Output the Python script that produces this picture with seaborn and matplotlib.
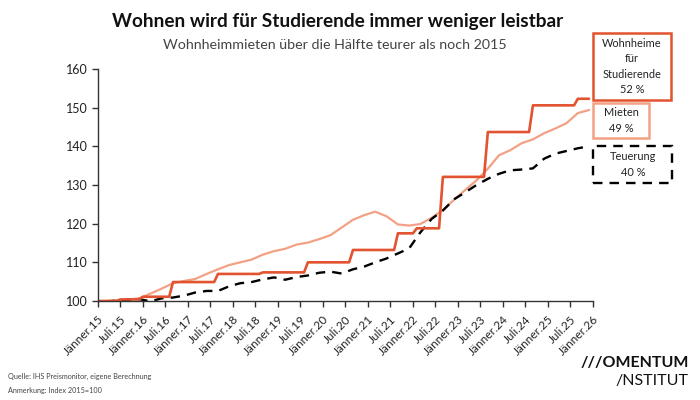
import pandas as pd
import matplotlib
matplotlib.use("Agg")
import matplotlib.pyplot as plt
from matplotlib.patches import Rectangle
import seaborn as sns

# --------------------------------------------------
# Data (Index 2015 = 100)
# --------------------------------------------------
# Wohnheime für Studierende, monthly Jan 2015 - Dec 2025
wohnheime = (
    [100.0] * 6 + [100.4] * 6            # 2015
    + [101.1] * 8 + [104.9] * 4          # 2016
    + [104.9] * 8 + [107.0] * 4          # 2017
    + [107.0] * 8 + [107.4] * 4          # 2018
    + [107.4] * 8 + [110.0] * 4          # 2019
    + [110.0] * 8 + [113.2] * 4          # 2020
    + [113.2] * 8 + [117.5] * 4          # 2021
    + [117.5] * 1 + [118.8] * 7 + [132.1] * 4   # 2022
    + [132.1] * 8 + [143.7] * 4          # 2023
    + [143.7] * 8 + [150.6] * 4          # 2024
    + [150.6] * 8 + [152.3] * 4          # 2025
)

# Mieten, quarterly (quarter ends) 2015 - 2025
mieten = [
    100.0, 100.2, 100.4, 100.7,
    101.9, 103.2, 104.6, 105.2,
    105.7, 107.0, 108.2, 109.3,
    110.0, 110.7, 112.0, 112.9,
    113.5, 114.6, 115.1, 116.0,
    117.0, 119.0, 121.0, 122.2,
    123.1, 121.9, 119.8, 119.5,
    119.9, 121.5, 123.5, 126.2,
    128.7, 131.2, 134.2, 137.7,
    139.0, 140.8, 141.8, 143.4,
    144.6, 146.0, 148.6, 149.4,
]

# Teuerung (VPI), quarterly (quarter ends) 2015 - 2025
teuerung = [
    99.8, 100.1, 100.3, 100.5,
    99.9, 100.7, 100.9, 101.4,
    102.2, 102.6, 102.6, 103.8,
    104.6, 104.9, 105.6, 106.1,
    105.5, 106.2, 106.6, 107.3,
    107.6, 107.1, 108.2, 108.9,
    110.0, 111.0, 112.3, 113.6,
    117.7, 121.2, 123.4, 126.3,
    128.1, 130.0, 131.6, 132.9,
    133.8, 134.0, 134.3, 136.8,
    138.1, 138.8, 139.5, 140.0,
]

monthly_dates = pd.date_range("2015-01-01", periods=len(wohnheime), freq="MS")
quarter_dates = pd.date_range("2015-03-01", periods=len(mieten), freq="3MS")

tick_dates = pd.date_range("2015-01-01", "2026-01-01", freq="6MS")
tick_labels = [
    ("Jänner." if d.month == 1 else "Juli.") + d.strftime("%y")
    for d in tick_dates
]

df_w = pd.DataFrame({"datum": monthly_dates, "index": wohnheime})
df_m = pd.DataFrame({"datum": quarter_dates, "index": mieten})
df_t = pd.DataFrame({"datum": quarter_dates, "index": teuerung})

RED = "#e2532f"
SALMON = "#f3a185"
DARK = "#222222"

# --------------------------------------------------
# Chart
# --------------------------------------------------
sns.set_theme(style="ticks")
plt.rcParams["font.family"] = ["Lato", "DejaVu Sans"]

fig = plt.figure(figsize=(7, 4), dpi=100)
ax = fig.add_axes([0.14, 0.2475, 0.707, 0.58])

sns.lineplot(data=df_m, x="datum", y="index", color=SALMON, linewidth=1.6, ax=ax)
sns.lineplot(data=df_t, x="datum", y="index", color="black", linewidth=1.7,
             linestyle=(0, (4, 3)), ax=ax)
sns.lineplot(data=df_w, x="datum", y="index", color=RED, linewidth=1.9, ax=ax)

ax.set_xlim(tick_dates[0], tick_dates[-1])
ax.set_ylim(100, 160)
ax.set_yticks(range(100, 161, 10))
ax.set_xticks(tick_dates)
ax.set_xticklabels(tick_labels, rotation=45, ha="right", rotation_mode="anchor")
ax.tick_params(axis="x", labelsize=8.5, length=4, width=1, color="#333333", pad=5)
ax.tick_params(axis="y", labelsize=9, length=4, width=1, color="#333333")
for lab in ax.get_xticklabels() + ax.get_yticklabels():
    lab.set_color(DARK)

ax.set_xlabel("")
ax.set_ylabel("")
sns.despine(ax=ax)
for side in ["left", "bottom"]:
    ax.spines[side].set_color("#333333")
    ax.spines[side].set_linewidth(1)

# --------------------------------------------------
# Titles
# --------------------------------------------------
fig.text(0.483, 0.945, "Wohnen wird für Studierende immer weniger leistbar",
         ha="center", va="center", fontsize=13.7, fontweight="bold", color="#111111")
fig.text(0.479, 0.887, "Wohnheimmieten über die Hälfte teurer als noch 2015",
         ha="center", va="center", fontsize=10.3, color="#444444")

# --------------------------------------------------
# Label boxes
# --------------------------------------------------
def px_box(x0, y0, x1, y1, color, ls="-", lw=1.8):
    rect = Rectangle((x0 / 700, 1 - y1 / 400), (x1 - x0) / 700, (y1 - y0) / 400,
                     transform=fig.transFigure, fill=False, edgecolor=color,
                     linewidth=lw, linestyle=ls)
    fig.add_artist(rect)

px_box(593, 33, 671, 100, RED)
fig.text(632 / 700, 1 - 66.5 / 400, "Wohnheime\nfür\nStudierende\n52 %",
         ha="center", va="center", fontsize=7.9, color=DARK, linespacing=1.5)

px_box(593, 103, 649, 138, SALMON)
fig.text(621 / 700, 1 - 120.5 / 400, "Mieten\n49 %",
         ha="center", va="center", fontsize=7.9, color=DARK, linespacing=1.5)

px_box(593, 146, 672, 183, "black", ls=(0, (4, 3)), lw=1.7)
fig.text(633 / 700, 1 - 164.5 / 400, "Teuerung\n40 %",
         ha="center", va="center", fontsize=7.9, color=DARK, linespacing=1.5)

# --------------------------------------------------
# Footer
# --------------------------------------------------
fig.text(0.012, 1 - 376 / 400, "Quelle: IHS Preismonitor, eigene Berechnung",
         ha="left", va="center", fontsize=5.2, color="#444444",
         family=["Liberation Sans Narrow", "Lato"])
fig.text(0.012, 1 - 390 / 400, "Anmerkung: Index 2015=100",
         ha="left", va="center", fontsize=5.2, color="#444444",
         family=["Liberation Sans Narrow", "Lato"])
fig.text(0.984, 1 - 363 / 400, "///OMENTUM",
         ha="right", va="center", fontsize=11.5, fontweight="bold", color="#111111")
fig.text(0.984, 1 - 381 / 400, "/NSTITUT",
         ha="right", va="center", fontsize=11.5, color="#111111")

fig.savefig("out.png", dpi=100)
